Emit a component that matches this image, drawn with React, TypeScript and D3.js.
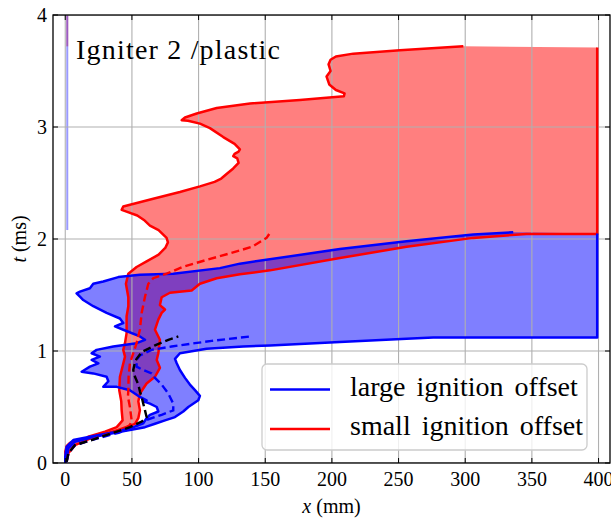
import React from 'react';
import * as d3 from 'd3';

type P = [number, number];

const xTicks = [0, 50, 100, 150, 200, 250, 300, 350, 400];
const yTicks = [0, 1, 2, 3, 4];
const titleText = 'Igniter 2 /plastic';
const legendLabels = ['large ignition offset', 'small ignition offset'];

// small ignition offset (red): front (left) and back (right) boundaries, [x mm, t ms]
const redLeft: P[] = [
  [0, 0], [0.3, 0.05], [0, 0.1], [1, 0.15], [3.5, 0.18], [7.3, 0.2], [16, 0.22], [17.3, 0.235], [29.8, 0.28],
  [38.6, 0.32], [43, 0.38], [42.3, 0.47], [42, 0.55], [40.5, 0.65], [41, 0.77], [42.3, 0.83], [44.8, 0.95],
  [43.5, 1.01], [44.8, 1.07], [46, 1.16], [46, 1.31], [47.3, 1.4], [47.3, 1.48], [45.5, 1.6], [47.3, 1.69],
  [53.5, 1.75], [61, 1.8], [70, 1.86], [75, 1.92], [77, 1.97], [76, 2.01], [70, 2.08], [63.5, 2.12], [59, 2.17],
  [54, 2.21], [47, 2.24], [42.3, 2.26], [43.5, 2.29], [50, 2.31], [66, 2.36], [86, 2.42], [101, 2.47], [112, 2.51],
  [117, 2.54], [121, 2.58], [126, 2.63], [130, 2.68], [129, 2.72], [126, 2.74], [127, 2.76], [130, 2.78],
  [131, 2.8], [127, 2.85], [118.5, 2.91], [108.5, 2.99], [101, 3.03], [92, 3.055], [87.3, 3.06], [89.8, 3.085],
  [98.6, 3.12], [113.6, 3.17], [138.6, 3.21], [176, 3.24], [209, 3.275], [209.5, 3.3], [203, 3.33], [198, 3.38],
  [196, 3.45], [199, 3.5], [197.5, 3.56], [199, 3.6], [203, 3.63], [216, 3.655], [251, 3.685], [298.6, 3.72],
];
const redRight: P[] = [
  [0, 0], [1, 0.03], [2.3, 0.087], [7.3, 0.16], [22, 0.235], [39.8, 0.295], [52.3, 0.35], [54.8, 0.4], [56, 0.47],
  [54.8, 0.55], [56, 0.62], [61, 0.71], [67.3, 0.77], [71, 0.85], [68.6, 0.92], [69.8, 0.98], [71, 1.1],
  [67.3, 1.19], [69.8, 1.28], [72.3, 1.34], [74.8, 1.37], [71, 1.41], [72.3, 1.48], [78.5, 1.52], [94.8, 1.54],
  [101, 1.6], [113.6, 1.65], [131, 1.685], [153.6, 1.72], [206, 1.83], [256, 1.93], [306, 2.01], [346, 2.045],
  [399, 2.045], [399, 3.71],
];
// large ignition offset (blue)
const blueLeft: P[] = [
  [0, 0], [0, 0.056], [1, 0.145], [6, 0.205], [18.5, 0.235], [38.6, 0.28], [51, 0.32], [58.5, 0.355], [61, 0.4],
  [63.5, 0.43], [69.8, 0.46], [68.6, 0.5], [63.5, 0.53], [58.5, 0.55], [61, 0.56], [56, 0.59], [48.5, 0.65],
  [38.6, 0.68], [28.5, 0.68], [32.3, 0.73], [31, 0.77], [21, 0.8], [12.3, 0.815], [18.5, 0.86], [24.8, 0.89],
  [19.8, 0.92], [26, 0.95], [19.8, 0.98], [23.5, 1.01], [36, 1.04], [53.5, 1.07], [59.8, 1.1], [56, 1.13],
  [43.5, 1.19], [37.3, 1.22], [43.5, 1.25], [41, 1.29], [31, 1.34], [21, 1.4], [13.5, 1.455], [11, 1.485],
  [8.5, 1.515], [11, 1.53], [18.5, 1.56], [21, 1.6], [28.5, 1.62], [39.8, 1.66], [56, 1.68], [81, 1.69],
  [116, 1.74], [131, 1.78], [206, 1.91], [256, 1.98], [306, 2.04], [336, 2.06],
];
const blueRight: P[] = [
  [0, 0], [1, 0.03], [2.3, 0.13], [7.3, 0.19], [22, 0.235], [42.3, 0.28], [59.8, 0.32], [67.3, 0.35],
  [74.8, 0.38], [82.3, 0.41], [88.5, 0.46], [92.3, 0.5], [99.8, 0.56], [101, 0.6], [97.3, 0.65], [93.5, 0.7],
  [89.8, 0.76], [86, 0.83], [83.6, 0.89], [82.3, 0.93], [86, 0.98], [106, 1.02], [133.5, 1.04], [153.6, 1.05],
  [206, 1.08], [256, 1.11], [276, 1.12], [399, 1.12], [399, 2.05],
];
const redDash: P[] = [
  [1, 0.01], [2.5, 0.09], [7.5, 0.16], [19, 0.205], [33, 0.26], [44, 0.3], [48.5, 0.34], [49.8, 0.38],
  [48.5, 0.5], [47, 0.59], [47.3, 0.65], [47.5, 0.77], [48.5, 0.89], [53.5, 1.07], [56, 1.19], [57.3, 1.34],
  [59.8, 1.485], [62.3, 1.6], [66, 1.65], [76, 1.69], [88, 1.75], [105, 1.81], [123, 1.87], [140, 1.93],
  [151, 2.01], [153, 2.045],
];
const blueDash: P[] = [
  [1, 0.01], [2.5, 0.09], [7.5, 0.16], [21, 0.21], [40, 0.27], [52, 0.32], [59.8, 0.38], [72.3, 0.43],
  [81, 0.47], [81, 0.53], [77.3, 0.62], [72.3, 0.7], [67.3, 0.76], [64.8, 0.8], [58.5, 0.83], [53.5, 0.86],
  [53.5, 0.92], [56, 0.96], [64.8, 1.01], [79.8, 1.04], [97.3, 1.07], [109.8, 1.09], [138.6, 1.13],
];
const blackDash: P[] = [
  [1, 0.01], [2.3, 0.087], [7.3, 0.16], [19.8, 0.205], [34.8, 0.265], [48.5, 0.32], [57.3, 0.37], [61, 0.41],
  [59.8, 0.47], [58.5, 0.53], [57.3, 0.59], [56, 0.64], [54.8, 0.7], [52.3, 0.77], [51, 0.83], [52.3, 0.9],
  [53.5, 0.93], [57.3, 0.99], [67.3, 1.05], [77.3, 1.1], [84.8, 1.13],
];
// thin zero-width slivers at x≈0
const blueSliver: P[] = [[1.5, 2.08], [1.5, 4]];
const redSliver: P[] = [[1.5, 3.72], [1.5, 4]];

const FONT = '"Liberation Serif", "DejaVu Serif", serif';

export default function App() {
  const W = 611, H = 523;
  const L = 53, R = 610, T = 15, B = 463;
  const x = d3.scaleLinear().domain([-9.2, 408.6]).range([L, R]);
  const y = d3.scaleLinear().domain([0, 4]).range([B, T]);
  const line = d3.line<P>().x(d => x(d[0])).y(d => y(d[1]));
  const redPoly = [...redLeft, ...[...redRight].reverse()];
  const bluePoly = [...blueLeft, ...[...blueRight].reverse()];
  const tl = 5;
  const lw = 2.5;

  return (
    <svg width={W} height={H} style={{ position: 'absolute', left: 0, top: 0, background: '#fff' }} fontFamily={FONT}>
      <defs>
        <clipPath id="plot"><rect x={L} y={T} width={R - L} height={B - T} /></clipPath>
      </defs>
      <rect x={0} y={0} width={W} height={H} fill="#fff" />
      <g clipPath="url(#plot)">
        <path d={line(redPoly) + 'Z'} fill="#ff0000" fillOpacity={0.5} stroke="none" />
        <path d={line(bluePoly) + 'Z'} fill="#0000ff" fillOpacity={0.5} stroke="none" />
        <path d={line(redSliver) || ''} stroke="#ff0000" strokeOpacity={0.4} strokeWidth={2} />
        <path d={line(blueSliver) || ''} stroke="#0000ff" strokeOpacity={0.4} strokeWidth={2} />
        {xTicks.map(t => (
          <line key={'gx' + t} x1={x(t)} x2={x(t)} y1={T} y2={B} stroke="#b0b0b0" strokeWidth={1.1} />
        ))}
        {yTicks.map(t => (
          <line key={'gy' + t} x1={L} x2={R} y1={y(t)} y2={y(t)} stroke="#b0b0b0" strokeWidth={1.1} />
        ))}
        <path d={line(redLeft) || ''} fill="none" stroke="#ff0000" strokeWidth={lw} strokeLinejoin="round" />
        <path d={line(redRight) || ''} fill="none" stroke="#ff0000" strokeWidth={lw} strokeLinejoin="round" />
        <path d={line(blueLeft) || ''} fill="none" stroke="#0000ff" strokeWidth={lw} strokeLinejoin="round" />
        <path d={line(blueRight) || ''} fill="none" stroke="#0000ff" strokeWidth={lw} strokeLinejoin="round" />
        <path d={line(redDash) || ''} fill="none" stroke="#ff0000" strokeWidth={2.4} strokeDasharray="8,4" />
        <path d={line(blueDash) || ''} fill="none" stroke="#0000ff" strokeWidth={2.4} strokeDasharray="8,4" />
        <path d={line(blackDash) || ''} fill="none" stroke="#000000" strokeWidth={2.4} strokeDasharray="8,4" />
      </g>
      {/* ticks inward on all sides */}
      {xTicks.map(t => (
        <g key={'tx' + t}>
          <line x1={x(t)} x2={x(t)} y1={B} y2={B - tl} stroke="#000" strokeWidth={1} />
          <line x1={x(t)} x2={x(t)} y1={T} y2={T + tl} stroke="#000" strokeWidth={1} />
          <text x={x(t)} y={486} fontSize={20} textAnchor="middle">{t}</text>
        </g>
      ))}
      {yTicks.map(t => (
        <g key={'ty' + t}>
          <line x1={L} x2={L + tl} y1={y(t)} y2={y(t)} stroke="#000" strokeWidth={1} />
          <line x1={R} x2={R - tl} y1={y(t)} y2={y(t)} stroke="#000" strokeWidth={1} />
          <text x={47} y={y(t) + 7} fontSize={20} textAnchor="end">{t}</text>
        </g>
      ))}
      <rect x={L} y={T} width={R - L} height={B - T} fill="none" stroke="#000" strokeWidth={1.3} />
      <text x={(L + R) / 2} y={513} fontSize={20} textAnchor="middle">
        <tspan fontStyle="italic">x</tspan> (mm)
      </text>
      <text transform={`translate(26,${(T + B) / 2}) rotate(-90)`} fontSize={20} textAnchor="middle">
        <tspan fontStyle="italic">t</tspan> (ms)
      </text>
      <text x={76} y={59} fontSize={28} letterSpacing={1.2}>{titleText}</text>
      <g>
        <rect x={262} y={364} width={325} height={86} rx={5} fill="#fff" fillOpacity={0.8} stroke="#cccccc" strokeWidth={1.3} />
        <line x1={270} x2={330} y1={389.5} y2={389.5} stroke="#0000ff" strokeWidth={lw} />
        <line x1={270} x2={330} y1={429} y2={429} stroke="#ff0000" strokeWidth={lw} />
        <text x={350} y={396} fontSize={28} wordSpacing={4}>{legendLabels[0]}</text>
        <text x={350} y={435} fontSize={28} wordSpacing={4}>{legendLabels[1]}</text>
      </g>
    </svg>
  );
}
